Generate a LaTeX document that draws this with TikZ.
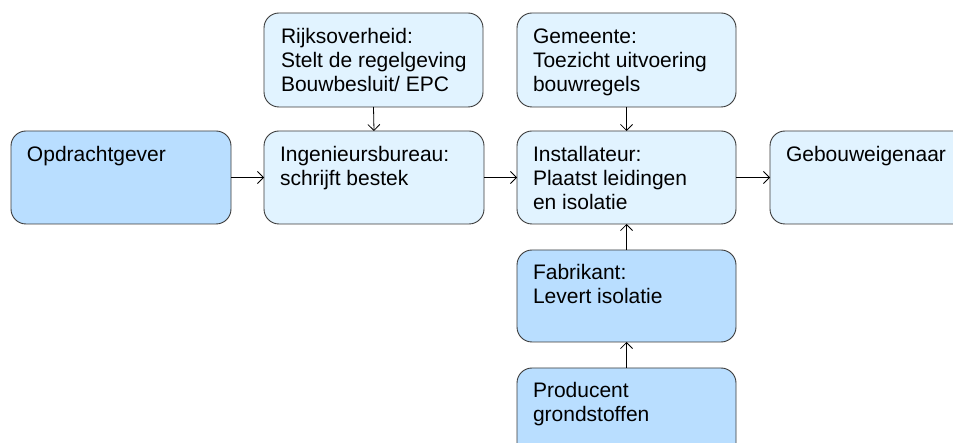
\documentclass[tikz,border=0pt]{standalone}
\usepackage{fontspec}
\setmainfont{Liberation Sans}
\usetikzlibrary{arrows.meta}
\definecolor{darkfill}{HTML}{B9DEFF}
\definecolor{lightfill}{HTML}{E1F3FF}
\definecolor{edge}{HTML}{3A3A3A}
\tikzset{
  box/.style={draw=edge, line width=0.9pt, rounded corners=15pt, inner sep=0pt, outer sep=0pt},
  dbox/.style={box, fill=darkfill},
  lbox/.style={box, fill=lightfill},
  lbl/.style={anchor=base west, inner sep=0pt, outer sep=0pt},
  conn/.style={draw=black, line width=0.8pt, -{Straight Barb[length=6pt,width=12pt,line width=0.8pt]}}
}
\newcommand{\boxtext}[1]{\parbox[t]{260pt}{\fontsize{21}{24}\selectfont #1}}
\begin{document}
\begin{tikzpicture}[x=1pt,y=-1pt]
\useasboundingbox (0,0) rectangle (953,443);
\clip (0,0) rectangle (953,443);
% boxes
\node[lbox, fit/.style={}, minimum width=219pt, minimum height=94pt, anchor=north west] (rijk) at (264,13) {};
\node[lbox, minimum width=219pt, minimum height=94pt, anchor=north west] (gem) at (517,13) {};
\node[dbox, minimum width=220pt, minimum height=93pt, anchor=north west] (opdr) at (11,131) {};
\node[lbox, minimum width=220pt, minimum height=93pt, anchor=north west] (ing) at (264,131) {};
\node[lbox, minimum width=219pt, minimum height=93pt, anchor=north west] (inst) at (517,131) {};
\node[lbox, minimum width=220pt, minimum height=93pt, anchor=north west] (geb) at (770,131) {};
\node[dbox, minimum width=219pt, minimum height=92pt, anchor=north west] (fabr) at (517,250) {};
\node[dbox, minimum width=219pt, minimum height=94pt, anchor=north west] (prod) at (517,368) {};
% texts
\node[lbl] (trijk) at (281,44) {\boxtext{Rijksoverheid:\\Stelt de regelgeving\\Bouwbesluit/ EPC}};
\node[lbl] (tgem) at (533,44) {\boxtext{Gemeente:\\Toezicht uitvoering\\bouwregels}};
\node[lbl] (topdr) at (27,162) {\boxtext{Opdrachtgever}};
\node[lbl] (ting) at (280,162) {\boxtext{Ingenieursbureau:\\schrijft bestek}};
\node[lbl] (tinst) at (533,162) {\boxtext{Installateur:\\Plaatst leidingen\\en isolatie}};
\node[lbl] (tgeb) at (786,162) {\boxtext{Gebouweigenaar}};
\node[lbl] (tfabr) at (533,280) {\boxtext{Fabrikant:\\Levert isolatie}};
\node[lbl] (tprod) at (533,398) {\boxtext{Producent\\grondstoffen}};
% connectors
\draw[conn] (opdr.east) -- (ing.west);
\draw[conn] (ing.east) -- (inst.west);
\draw[conn] (inst.east) -- (geb.west);
\draw[conn] (rijk.south) -- (ing.north);
\draw[conn] (gem.south) -- (inst.north);
\draw[conn] (fabr.north) -- (inst.south);
\draw[conn] (prod.north) -- (fabr.south);
\end{tikzpicture}
\end{document}
